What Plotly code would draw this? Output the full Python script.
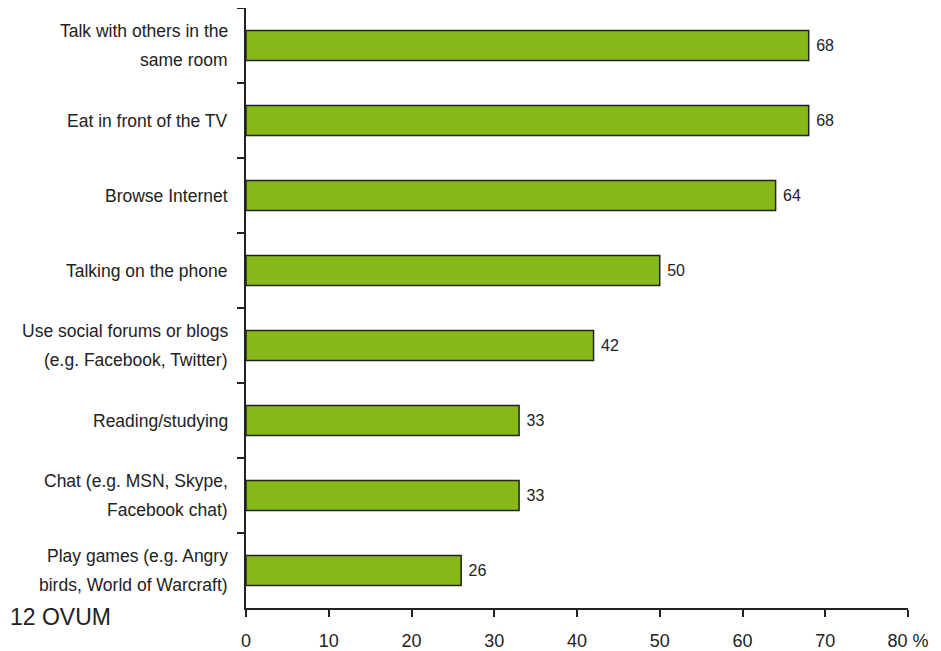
import plotly.graph_objects as go

categories = [
    "Talk with others in the<br>same room",
    "Eat in front of the TV",
    "Browse Internet",
    "Talking on the phone",
    "Use social forums or blogs<br>(e.g. Facebook, Twitter)",
    "Reading/studying",
    "Chat (e.g. MSN, Skype,<br>Facebook chat)",
    "Play games (e.g. Angry<br>birds, World of Warcraft)",
]
values = [68, 68, 64, 50, 42, 33, 33, 26]
tick_vals = [0, 10, 20, 30, 40, 50, 60, 70, 80]
tick_text = ["0", "10", "20", "30", "40", "50", "60", "70", "80 %"]

FONT = "Liberation Sans, Arial"
INK = "#222222"

fig = go.Figure(go.Bar(
    y=categories, x=values, orientation="h",
    marker=dict(color="#86B817", line=dict(color=INK, width=1.5)),
    text=[str(v) for v in values], texttemplate=" %{text}", textposition="outside",
    textfont=dict(family=FONT, size=16, color=INK),
    cliponaxis=False,
))

fig.update_layout(
    width=941, height=651,
    margin=dict(l=238, r=41, t=0, b=51, autoexpand=False),
    plot_bgcolor="white", paper_bgcolor="white",
    bargap=0.6, showlegend=False,
    xaxis=dict(range=[0, 80], tickvals=tick_vals, ticktext=tick_text, automargin=False,
               showgrid=False, zeroline=False, showline=True, linecolor=INK, linewidth=1.5,
               ticks="outside", ticklen=7, tickcolor=INK, tickwidth=1.5,
               ticklabelstandoff=9,
               tickfont=dict(family=FONT, size=18, color=INK)),
    yaxis=dict(autorange="reversed", showgrid=False, showline=True, linecolor=INK, linewidth=1.5,
               ticks="outside", ticklen=7, tickcolor=INK, tickwidth=1.5, tickson="boundaries",
               showticklabels=False, automargin=False),
)

# category labels, drawn per line for the reference's wide line spacing
for cat in categories:
    lines = cat.split("<br>")
    n = len(lines)
    for i, ln in enumerate(lines):
        shift = (n - 1) / 2 * 29 - i * 29
        fig.add_annotation(text=ln, xref="paper", x=0, yref="y", y=cat,
                           xanchor="right", yanchor="middle", xshift=-16, yshift=shift,
                           showarrow=False, font=dict(family=FONT, size=17.5, color=INK))

fig.add_annotation(text="12 OVUM", xref="paper", yref="paper", x=-238 / 662, y=-0.015,
                   xanchor="left", yanchor="middle", showarrow=False,
                   font=dict(family=FONT, size=23, color=INK))

fig.write_html("out.html")
